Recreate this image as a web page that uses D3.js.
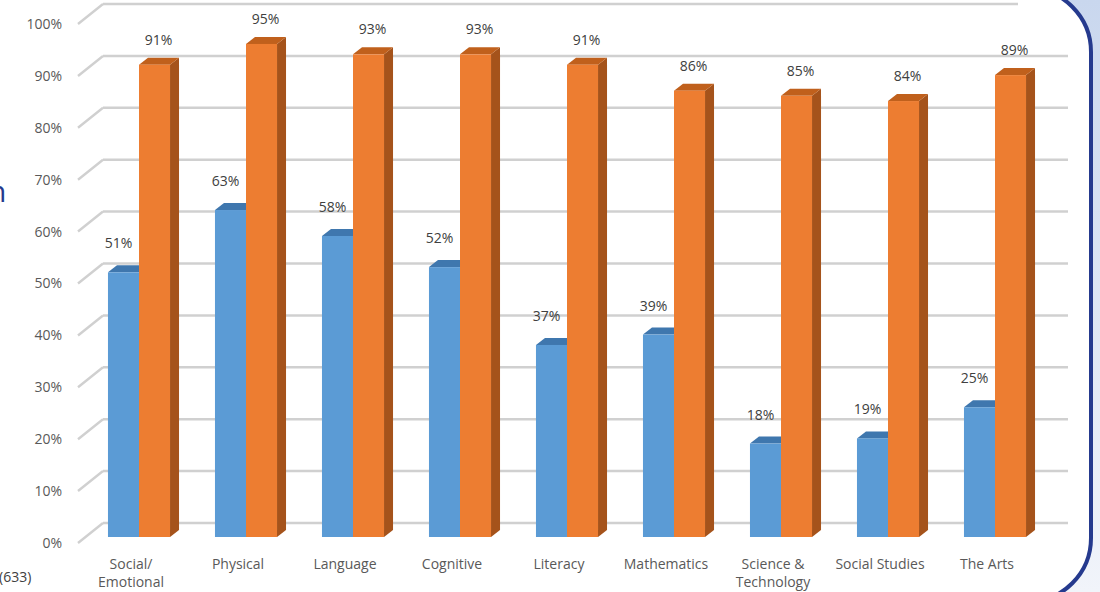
<!DOCTYPE html>
<html>
<head>
<meta charset="utf-8">
<script src="https://cdn.jsdelivr.net/npm/d3@7"></script>
<style>
  body { margin: 0; background: #fff; }
  svg { display: block; font-family: "Open Sans", sans-serif; }
</style>
</head>
<body>
<svg></svg>
<script>
let categories = ['Social/\nEmotional', 'Physical', 'Language', 'Cognitive', 'Literacy', 'Mathematics', 'Science &\nTechnology', 'Social Studies', 'The Arts']
let blueValues = [51, 63, 58, 52, 37, 39, 18, 19, 25]
let orangeValues = [91, 95, 93, 93, 91, 86, 85, 84, 89]
let yTicks = [0, 10, 20, 30, 40, 50, 60, 70, 80, 90, 100]

let width = 1100
let height = 592

// 3d offsets
let wallDx = 25, wallDy = -20
let barDx = 9, barDy = -7
let barShift = -6

let svg = d3.select('svg').attr('width', width).attr('height', height)

let defs = svg.append('defs')
let grad = defs.append('linearGradient').attr('id', 'bg').attr('x1', 0).attr('y1', 0).attr('x2', 0).attr('y2', 1)
grad.append('stop').attr('offset', '0%').attr('stop-color', '#c9d7ee')
grad.append('stop').attr('offset', '100%').attr('stop-color', '#f1f4fa')

// light blue outside the panel
svg.append('rect').attr('width', width).attr('height', height).attr('fill', 'url(#bg)')
svg.append('rect')
    .attr('x', -100).attr('y', -12)
    .attr('width', 1191).attr('height', 614)
    .attr('rx', 64).attr('ry', 64)
    .attr('fill', '#fff')

let yscale = d3.scaleLinear().domain([0, 100]).range([543, 24])

let xscale = d3.scaleBand()
    .domain(categories)
    .range([85.5, 1048.5])
    .paddingInner(0.42)
    .paddingOuter(0.21)

let xsub = d3.scaleBand().domain(['blue', 'orange']).range([0, xscale.bandwidth()])

// back wall + floor gridlines
let grid = svg.append('g')
grid.selectAll('.hline')
    .data(yTicks)
    .enter()
    .append('line')
    .attr('x1', 78 + wallDx)
    .attr('x2', (d) => d == 100 ? 1018 : 1068)
    .attr('y1', (d) => yscale(d) + wallDy)
    .attr('y2', (d) => yscale(d) + wallDy)
    .attr('stroke', '#d0d0d0')
    .attr('stroke-width', 2.5)
grid.selectAll('.dline')
    .data(yTicks)
    .enter()
    .append('line')
    .attr('x1', 78)
    .attr('x2', 78 + wallDx)
    .attr('y1', (d) => yscale(d))
    .attr('y2', (d) => yscale(d) + wallDy)
    .attr('stroke', '#d0d0d0')
    .attr('stroke-width', 2.5)

// y labels
svg.append('g').selectAll('text')
    .data(yTicks)
    .enter()
    .append('text')
    .attr('x', 62)
    .attr('y', (d) => yscale(d))
    .attr('dy', '0.35em')
    .attr('text-anchor', 'end')
    .attr('font-size', 14)
    .attr('fill', '#595959')
    .text((d) => d + '%')

let series = [
    { key: 'blue', values: blueValues, front: '#5b9bd5', top: '#3f77ae', side: '#41719c', lx: -5, ly: 24 },
    { key: 'orange', values: orangeValues, front: '#ed7d31', top: '#c0601c', side: '#a5531b', lx: 4, ly: 20 }
]

let bars = svg.append('g')
series.forEach((s) => {
    let g = bars.selectAll('.bar-' + s.key)
        .data(categories)
        .enter()
        .append('g')
    let xl = (c) => xscale(c) + xsub(s.key)
    let xr = (c) => xscale(c) + xsub(s.key) + xsub.bandwidth()
    let y0 = yscale(0) + barShift
    let yt = (c, i) => yscale(s.values[i]) + barShift
    // side
    g.append('path')
        .attr('d', (c, i) => 'M' + xr(c) + ',' + yt(c, i) +
            'L' + (xr(c) + barDx) + ',' + (yt(c, i) + barDy) +
            'L' + (xr(c) + barDx) + ',' + (y0 + barDy) +
            'L' + xr(c) + ',' + y0 + 'Z')
        .attr('fill', s.side)
    // top
    g.append('path')
        .attr('d', (c, i) => 'M' + xl(c) + ',' + yt(c, i) +
            'L' + (xl(c) + barDx) + ',' + (yt(c, i) + barDy) +
            'L' + (xr(c) + barDx) + ',' + (yt(c, i) + barDy) +
            'L' + xr(c) + ',' + yt(c, i) + 'Z')
        .attr('fill', s.top)
    // front
    g.append('rect')
        .attr('x', (c) => xl(c))
        .attr('y', (c, i) => yt(c, i))
        .attr('width', xsub.bandwidth())
        .attr('height', (c, i) => y0 - yt(c, i))
        .attr('fill', s.front)
    // value label
    g.append('text')
        .attr('x', (c) => xl(c) + xsub.bandwidth() / 2 + s.lx)
        .attr('y', (c, i) => yt(c, i) - s.ly)
        .attr('text-anchor', 'middle')
        .attr('font-size', 14)
        .attr('fill', '#404040')
        .text((c, i) => s.values[i] + '%')
})

// category labels
let cats = svg.append('g').selectAll('text')
    .data(categories)
    .enter()
    .append('text')
    .attr('x', (c) => xscale(c) + xscale.bandwidth() / 2 - 8)
    .attr('y', 569)
    .attr('text-anchor', 'middle')
    .attr('font-size', 14)
    .attr('fill', '#595959')
cats.selectAll('tspan')
    .data((c) => c.split('\n').map((t) => ({ t: t, c: c })))
    .enter()
    .append('tspan')
    .attr('x', (d) => xscale(d.c) + xscale.bandwidth() / 2 - 8)
    .attr('dy', (d, i) => i == 0 ? 0 : 18)
    .text((d) => d.t)

// panel border
svg.append('rect')
    .attr('x', -100).attr('y', -12)
    .attr('width', 1191).attr('height', 614)
    .attr('rx', 64).attr('ry', 64)
    .attr('fill', 'none')
    .attr('stroke', '#253a8e')
    .attr('stroke-width', 4)

// cut-off text at the left edge
svg.append('text')
    .attr('x', -12).attr('y', 202)
    .attr('font-size', 30)
    .attr('fill', '#253a8e')
    .text('n')
svg.append('text')
    .attr('x', -1).attr('y', 582)
    .attr('font-size', 14)
    .attr('fill', '#404040')
    .text('(633)')
</script>
</body>
</html>
